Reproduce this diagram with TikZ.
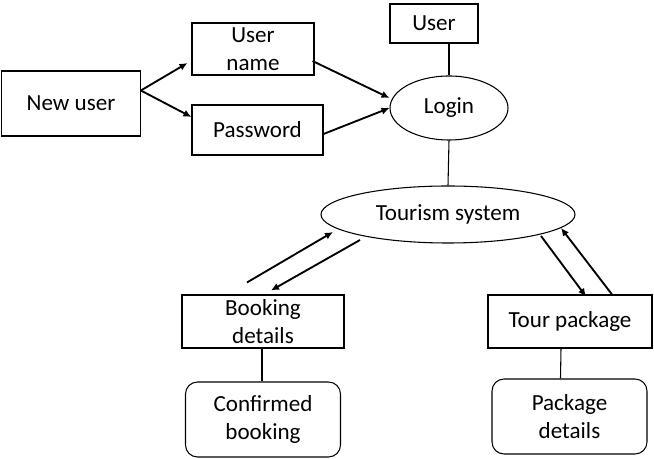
\documentclass[tikz,border=0pt]{standalone}
\usepackage{fontspec}
\setmainfont{Carlito}
\usetikzlibrary{arrows.meta,shapes.geometric,calc}

\begin{document}
\begin{tikzpicture}[
  x=0.75pt, y=-0.75pt,
  box/.style={draw, line width=0.8pt, align=center, inner sep=0pt, font=\fontsize{17.3}{21}\selectfont},
  rbox/.style={box, rounded corners=9pt},
  oval/.style={box, ellipse},
  arr/.style={-{Latex[length=6pt,width=5.5pt]}, line width=1.4pt},
  ln/.style={line width=0.8pt}
]
\useasboundingbox (0,0) rectangle (654,459);
\node[box, minimum width=104pt, minimum height=48.75pt] (nu) at (71,103.5) {New user};
\node[box, minimum width=91.5pt, minimum height=39pt] (un) at (253,49) {User\\name};
\node[box, minimum width=98.25pt, minimum height=37.5pt] (pw) at (257.5,130) {Password};
\node[box, minimum width=66pt, minimum height=29.25pt] (us) at (434,23.5) {User};
\node[oval, minimum width=88.5pt, minimum height=48pt] (lg) at (449,108) {Login};
\node[oval, minimum width=190.5pt, minimum height=42.75pt] (ts) at (448,214.5) {Tourism system};
\node[box, minimum width=121.5pt, minimum height=39.75pt] (bk) at (263,321.5) {Booking\\details};
\node[box, minimum width=123pt, minimum height=39.75pt] (tp) at (570,321.5) {Tour package};
\node[rbox, minimum width=116.25pt, minimum height=56.25pt] (cb) at (263,419.5) {Confirmed\\booking};
\node[rbox, minimum width=116.25pt, minimum height=56.25pt] (pd) at (569.5,416.5) {Package\\details};
% login inputs
\draw[arr] ($(nu.east)+(0,-13)$) -- ($(un.west)+(-4,14)$);
\draw[arr] ($(nu.east)+(0,-13)$) -- ($(pw.west)+(0,-13)$);
\draw[arr] ($(un.east)+(-2,12)$) -- ($(lg.west)+(0,-10)$);
\draw[arr] ($(pw.east)+(0,4)$) -- (lg.west);
\draw[ln] (lg.north) -- (lg.north |- us.south);
\draw[ln] (lg.south) -- (ts.north);
% booking and tour package
\draw[arr] ($(bk.north)+(-16,-12)$) -- ($(ts)+(-115,17.5)$);
\draw[arr] ($(ts)+(-88,25.5)$) -- ($(bk.north)+(8,-4)$);
\draw[arr] ($(ts)+(93,21.5)$) -- ($(tp.north)+(16,2)$);
\draw[arr] ($(tp.north)+(42,0)$) -- ($(ts)+(113,13.5)$);
\draw[ln] ($(bk.south)+(-1,0)$) -- ($(cb.north)+(-1,0)$);
\draw[ln] ($(tp.south)+(-9,0)$) -- ($(pd.north)+(-9,0)$);
\end{tikzpicture}
\end{document}
